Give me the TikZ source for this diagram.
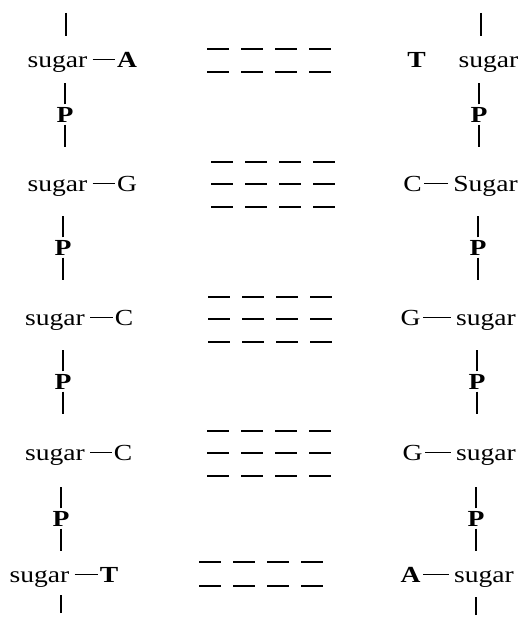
\documentclass[tikz,border=0pt]{standalone}
\usepackage{fontspec}
\setmainfont{Liberation Serif}[FakeStretch=1.2]
\usepackage{tikz}
\usetikzlibrary{calc}

\begin{document}
\begin{tikzpicture}[x=1pt, y=-1pt,
  every node/.style={font=\fontsize{23}{27}\selectfont, inner sep=0pt,
    text height=18pt, text depth=2pt, anchor=base},
  bar/.style={line width=1.4pt},
  bond/.style={line width=1.5pt, shorten <=5pt, shorten >=2pt},
  hbond/.style={line width=1.7pt, dash pattern=on 22pt off 12pt}]
\useasboundingbox (0,0) rectangle (520,617);

% Left strand
\node (sl1) at (57.5,67.5)  {sugar};
\node (bl1) at (127,67.5)   {\textbf{A}};
\node (pl1) at (65,122.5)   {\textbf{P}};
\node (sl2) at (57.5,191.5) {sugar};
\node (bl2) at (127,191.5)  {G};
\node (pl2) at (63,255.5)   {\textbf{P}};
\node (sl3) at (55,325.5)   {sugar};
\node (bl3) at (124,325.5)  {C};
\node (pl3) at (63,389.5)   {\textbf{P}};
\node (sl4) at (55,460.5)   {sugar};
\node (bl4) at (123,460.5)  {C};
\node (pl4) at (61,526.5)   {\textbf{P}};
\node (sl5) at (39.5,582.5) {sugar};
\node (bl5) at (109,582.5)  {\textbf{T}};

% Right strand
\node (br1) at (416.5,67.5) {\textbf{T}};
\node (sr1) at (488.5,67.5) {sugar};
\node (pr1) at (479,122.5)  {\textbf{P}};
\node (br2) at (412.5,191.5) {C};
\node (sr2) at (485.5,191.5) {Sugar};
\node (pr2) at (478,255.5)  {\textbf{P}};
\node (br3) at (410.5,325.5) {G};
\node (sr3) at (486,325.5)  {sugar};
\node (pr3) at (477,389.5)  {\textbf{P}};
\node (br4) at (412.5,460.5) {G};
\node (sr4) at (486,460.5)  {sugar};
\node (pr4) at (476,526.5)  {\textbf{P}};
\node (br5) at (410.5,582.5) {\textbf{A}};
\node (sr5) at (484,582.5)  {sugar};

% Free chain ends
\coordinate (ltop) at (66,13);
\coordinate (rtop) at (481,13);
\coordinate (lbot) at (61,613);
\coordinate (rbot) at (476,615);
\draw[bar] (ltop) -- +(0,23);
\draw[bar] (rtop) -- +(0,23);
\draw[bar] (lbot) -- +(0,-18);
\draw[bar] (rbot) -- +(0,-18);

% Backbone links through the phosphates
\foreach \p in {pl1,pl2,pl3,pl4,pr1,pr2,pr3,pr4} {
  \draw[bar] (\p.north) -- +(0,-21);
  \draw[bar] (\p.south) -- +(0,22);
}

% Sugar--base bonds
\draw[bond] (sl1) -- (bl1);
\draw[bond] (sl2) -- (bl2);
\draw[bond] (sl3) -- (bl3);
\draw[bond] (sl4) -- (bl4);
\draw[bond] (sl5) -- (bl5);
\draw[bond] (sr2) -- (br2);
\draw[bond] (sr3) -- (br3);
\draw[bond] (sr4) -- (br4);
\draw[bond] (sr5) -- (br5);

% Hydrogen bonds
\foreach \y/\xa in {49/207, 72/207,
                    162/211, 184/211, 207/211,
                    297/208, 319/208, 342/208,
                    431/207, 453/207, 476/207,
                    562/199, 586/199}
  \draw[hbond] (\xa,\y) -- +(125,0);

\end{tikzpicture}
\end{document}
